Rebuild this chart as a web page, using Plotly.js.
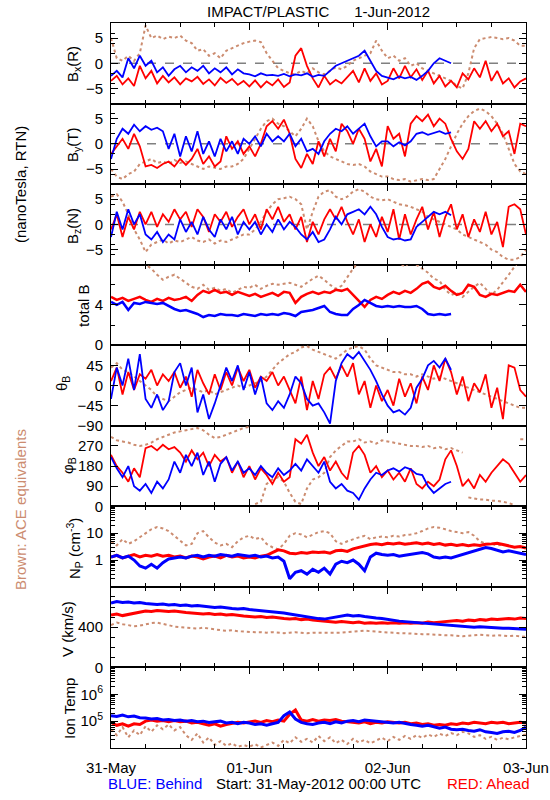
<!DOCTYPE html>
<html><head><meta charset="utf-8">
<script src="https://cdn.plot.ly/plotly-3.0.1.min.js"></script>
<style>html,body{margin:0;padding:0;background:#fff}</style>
</head><body>
<div id="chart" style="width:550px;height:800px"></div>
<script>
// ---- data: hourly readings from 31-May-2012 00:00 UTC (index = hour) ----
const bxRed = [-3.5,-2.5,-4.2,-3.0,-4.5,-0.5,-3.0,-1.5,-4.0,-2.5,-3.8,-2.8,
 -4.2,-3.0,-3.6,-2.7,-4.1,-3.2,-4.4,-2.9,-3.9,-3.1,-4.3,-3.5,
 -4.6,-3.4,-4.8,-3.6,-4.4,-3.2,-4.7,-3.8,1.5,3.0,-0.5,-3.0,
 -4.8,-2.5,-4.2,-3.3,-4.0,-2.8,-1.5,-3.8,-1.0,-3.5,-2.0,-4.2,
 -3.5,-1.0,-3.0,-0.5,-2.8,-1.2,-3.3,-1.5,-4.0,-2.5,-4.6,-3.5,
 -4.8,-2.0,-3.2,-1.0,-2.8,0.5,-3.5,-1.5,-4.0,-3.0,-4.8,-3.6,
 -3.0];
const bxBlue = [-2.5,-1.5,-2.8,1.0,-1.0,1.5,-0.5,0.5,-1.8,-0.8,-2.5,-1.2,
 -0.5,-1.8,-0.8,-1.5,-0.5,-2.0,-1.0,-1.8,-0.8,-2.2,-1.2,-2.0,
 -2.2,-2.6,-2.0,-2.4,-2.3,-2.5,-2.1,-2.6,-2.2,-2.4,-2.0,-2.7,
 -2.3,-2.5,-1.5,-0.5,0.0,0.5,1.0,1.5,2.5,0.5,-1.5,-2.5,
 -2.8,-3.2,-2.6,-3.0,-2.7,-3.3,-2.5,-1.5,0.0,1.0,0.5,0.0];
const bxAce = [5.0,1.0,0.5,1.5,0.5,2.0,7.5,5.0,5.5,4.8,5.3,5.0,
 5.5,4.5,4.0,2.5,2.8,1.5,2.0,1.0,2.5,3.0,3.5,4.0,
 4.3,4.5,4.2,2.0,0.5,-1.0,-1.5,-2.0,-2.2,-1.5,-2.0,-1.0,
 -1.8,-2.2,-1.5,-0.8,-1.2,-0.5,0.5,1.0,1.5,2.0,4.5,2.5,
 1.0,1.5,0.5,1.0,-0.5,0.0,-1.0,-1.5,-2.0,-2.5,-3.0,-3.5,
 -4.5,-5.0,-2.0,3.0,4.8,5.0,5.2,5.0,4.8,5.0,4.5,3.5,
 3.5];

const byRed = [-2.0,-0.5,1.0,-1.0,2.0,-0.5,-4.5,-4.2,-4.8,-4.0,-3.5,-4.5,
 -3.0,-4.2,-3.0,-1.0,-4.0,-2.5,-4.5,-3.5,1.5,-1.0,0.5,-2.0,
 -0.5,-2.5,0.0,3.5,4.5,3.0,4.8,2.0,-3.0,-4.8,-2.0,-4.0,
 0.5,-2.5,1.0,-1.5,4.0,2.5,0.0,3.0,1.0,-3.5,-1.0,-4.5,
 3.5,1.0,2.0,-2.5,4.0,5.5,4.5,5.8,3.5,5.0,4.0,1.0,
 -1.5,-3.0,-1.0,4.5,3.0,4.5,2.5,4.0,1.5,2.5,-2.0,4.0,
 3.5];
const byBlue = [-3.0,1.0,3.0,2.0,3.8,2.5,3.5,2.8,3.2,2.5,-1.0,2.0,
 -2.5,1.5,-1.5,2.5,-2.0,0.5,-2.5,1.0,-1.5,0.5,-2.0,1.0,
 0.0,1.5,-0.5,2.0,0.5,1.5,0.5,2.0,-0.5,1.0,-1.5,-1.0,
 -2.0,0.5,2.0,3.0,2.5,3.5,2.0,3.0,4.0,1.5,-0.5,0.5,
 0.5,-0.5,0.3,-0.3,0.5,2.0,2.3,1.8,2.2,2.5,2.0,2.3];
const byAce = [-5.0,-6.5,-7.0,-6.0,-5.5,-4.0,-3.5,-3.0,-3.8,-3.5,-4.0,-3.2,
 -3.8,-3.5,-4.0,-4.5,-5.0,-4.5,-4.8,-5.0,-4.5,-4.5,-4.0,-3.0,
 -1.0,1.0,3.0,4.5,5.0,4.0,3.5,2.5,1.5,3.0,5.0,3.5,
 0.5,-1.5,-2.5,-3.0,-3.5,-4.0,-4.2,-4.0,-4.5,-5.5,-6.0,-6.5,
 -6.5,-7.0,-7.2,-7.0,-7.5,-7.2,-7.0,-7.2,-7.0,-5.0,-3.0,-0.5,
 2.0,4.0,5.5,6.5,7.0,6.5,5.5,4.0,2.0,-1.0,-4.0,-5.5,
 -6.0];

const bzRed = [-1.0,2.0,-2.5,1.5,-1.0,2.5,0.0,2.5,-0.5,2.0,0.5,3.0,
 1.0,2.5,-0.5,3.0,1.5,-1.5,2.0,0.5,2.5,-0.5,1.5,3.0,
 0.0,2.0,-1.0,3.0,1.0,3.5,0.5,2.0,-1.0,1.5,-3.5,0.5,
 -2.0,1.0,3.0,1.0,3.5,0.5,-2.0,1.0,-3.5,0.0,-2.5,1.5,
 -1.5,3.0,-3.0,2.0,-2.0,1.0,3.5,-1.0,2.5,-2.5,1.5,4.0,
 -1.0,2.0,-2.5,1.0,-1.5,2.5,-2.0,0.5,-4.5,3.5,4.0,3.0,
 -2.0];
const bzBlue = [-2.5,2.5,-1.0,3.0,0.0,2.0,-2.0,-3.0,-1.5,-3.5,-2.0,-3.0,
 1.0,-1.5,0.5,-2.0,1.5,-1.0,-2.5,1.0,-1.0,1.5,-2.0,0.5,
 -1.0,0.5,-2.0,0.0,-1.5,1.0,-1.0,0.5,-0.5,-2.0,-3.0,-1.5,
 -3.5,-3.0,-1.0,1.5,0.0,2.0,2.5,3.0,2.0,3.5,2.0,-0.5,
 -2.5,-3.0,-2.8,-3.2,-3.0,-0.5,0.5,1.5,2.5,2.0,2.5,1.8];
const bzAce = [5.5,6.0,4.5,2.0,-1.0,-3.0,-5.5,-4.0,-3.5,-3.0,-3.8,-3.2,
 -3.5,-3.0,-2.5,-3.2,-3.5,-3.0,-3.8,-3.2,-3.5,-3.0,-2.5,-2.0,
 -2.0,-1.0,0.5,2.5,4.0,5.0,5.2,5.5,5.0,4.0,-1.0,2.5,
 5.5,6.5,6.8,5.5,5.0,5.5,6.5,7.0,6.5,5.5,5.0,4.8,
 5.0,4.5,4.0,3.8,3.5,3.0,2.5,1.5,1.0,0.5,0.0,-0.5,
 -1.0,-2.0,-2.5,-3.0,-3.5,-4.0,-5.0,-5.5,-6.5,-7.0,-7.0,-6.5,
 -5.0];

const totRed = [4.8,4.5,4.7,4.4,4.6,4.8,4.5,4.3,4.6,4.4,4.7,4.5,
 4.6,4.8,4.4,5.0,5.4,5.2,5.5,5.2,5.3,5.0,5.3,5.1,
 4.9,5.1,4.8,5.0,5.2,4.9,5.3,5.2,4.2,4.8,5.1,5.3,
 5.1,5.3,5.2,5.5,5.4,5.6,5.0,4.3,3.8,4.5,4.8,4.6,
 5.0,5.3,5.1,5.4,5.2,5.6,6.1,6.3,5.8,5.6,5.9,5.4,
 5.0,5.2,6.0,5.8,5.0,4.8,5.1,5.0,5.2,5.4,5.3,6.0,
 5.3];
const totBlue = [4.3,4.0,4.3,3.5,4.2,4.1,4.3,4.2,4.1,4.2,3.9,3.6,
 3.4,3.5,3.3,3.1,2.8,3.0,2.9,3.1,3.0,3.0,2.9,3.1,
 3.0,2.9,3.1,3.0,3.1,3.0,3.2,3.1,2.9,3.3,3.4,3.5,
 3.7,3.9,3.3,3.1,3.0,3.0,3.6,4.0,4.5,4.2,3.9,3.8,
 3.9,3.8,3.9,3.8,3.8,3.9,3.6,3.1,3.0,3.1,3.0,3.1];
const totAce = [8.8,8.6,8.9,8.5,8.7,8.4,8.0,7.6,7.0,6.5,6.8,7.0,
 6.6,6.2,5.8,5.6,6.0,5.5,5.7,5.4,5.6,5.2,5.5,5.8,
 5.7,6.0,5.6,5.9,6.1,6.0,6.1,6.2,6.0,5.8,6.2,6.6,
 6.9,6.5,6.0,5.6,5.9,6.8,7.6,8.3,8.6,8.5,8.8,8.6,
 8.4,8.5,8.2,7.8,8.3,8.0,7.6,7.2,6.6,6.4,5.5,5.0,
 5.2,4.8,5.3,5.8,6.2,5.6,5.0,5.5,6.2,7.0,7.8,8.5,
 8.8];

const thRed = [10,40,-20,30,-10,25,15,35,0,25,10,30,
 -5,20,-25,35,5,-20,25,-10,30,0,40,10,
 35,-5,20,10,30,0,20,-10,-40,20,-55,10,
 -30,25,40,15,45,20,50,-20,10,-50,0,-35,
 -10,-45,15,-25,5,-40,20,-10,45,10,60,30,
 -20,20,-35,5,-15,25,-50,-5,-75,45,40,-10,
 -25];
const thBlue = [-30,40,0,60,-10,70,-30,-50,-20,-55,-35,30,
 50,0,40,-60,-20,-75,-40,0,40,10,45,-10,
 30,-20,20,-40,-55,-35,-50,-20,20,5,-30,-45,
 -40,-60,-85,10,50,70,60,75,55,35,10,-20,
 -45,-60,-55,-65,-50,-5,15,45,55,40,60,35];
const thAce = [40,50,35,30,20,10,0,-10,-25,-30,-35,-25,
 -15,-10,-5,-10,-15,-10,-20,-15,-10,-5,0,-5,
 0,5,10,20,35,50,60,70,75,85,88,80,
 75,70,65,60,70,80,85,88,80,60,45,40,
 35,30,30,25,25,20,25,20,15,20,15,10,
 5,0,-5,-10,-15,-20,-25,-30,-35,-40,-45,-50,
 -50];

const phRed = [230,180,150,110,170,130,260,270,250,275,255,265,
 240,200,250,210,240,180,230,200,220,150,200,130,
 180,120,170,140,100,150,110,130,300,280,320,240,
 180,220,160,200,150,120,240,270,230,150,180,130,
 160,120,150,110,170,100,80,110,90,120,210,250,
 180,90,120,80,140,110,150,180,210,190,150,110,
 140];
const phBlue = [220,170,130,180,90,70,100,60,110,80,120,200,
 150,230,180,240,140,200,110,190,220,160,200,150,
 170,140,180,150,130,170,140,160,190,160,210,180,
 150,200,110,80,100,70,60,30,80,120,150,140,
 160,170,155,175,165,145,140,90,60,80,100,110];
const phAce = [310,295,290,285,275,270,275,285,300,310,320,330,
 335,340,345,350,340,320,305,310,320,330,340,350,
 355,10,20,100,120,130,110,60,20,10,80,120,
 130,150,220,250,270,290,290,300,285,290,280,295,
 290,285,280,275,270,270,265,270,260,265,255,260,
 250,240,40,35,30,30,25,25,20,15,5,300,
 300];

const npRed = [1.3,1.5,1.2,1.4,1.6,1.3,1.5,1.4,1.6,1.4,1.5,1.3,
 1.4,1.2,1.4,1.3,1.1,1.3,1.4,1.2,1.5,1.3,1.4,1.2,
 1.3,1.2,1.4,1.5,1.9,2.4,2.2,1.8,1.7,1.9,1.8,2.0,
 1.9,2.0,1.8,2.2,2.3,2.1,2.6,3.0,3.5,3.8,4.0,3.7,
 4.2,4.0,4.3,3.9,4.1,4.4,4.0,4.3,3.8,4.1,3.6,3.9,
 3.5,3.8,3.4,3.7,3.5,3.9,4.0,4.2,3.8,3.3,3.0,3.2,
 2.8];
const npBlue = [1.3,1.5,1.2,1.4,1.0,0.6,0.5,0.7,0.5,0.8,1.1,1.2,
 1.3,1.2,1.4,1.5,1.3,1.5,1.4,1.6,1.5,1.4,1.6,1.5,
 1.4,1.5,1.3,1.4,1.2,1.3,0.9,0.2,0.35,0.4,0.3,0.45,
 0.35,0.5,0.3,0.7,0.9,0.8,1.0,0.7,0.4,1.3,1.8,1.6,
 1.5,1.6,1.4,1.5,1.6,1.8,1.9,1.7,1.3,1.2,1.3,1.2,
 1.4,1.6,1.9,2.2,2.6,2.9,2.7,2.3,2.0,2.2,2.0,1.8,
 1.6];
const npAce = [5,3.5,6,4,5,7,10,14,17,15,12,8,
 5,3.5,4,10,12,7,4.5,3.5,4,3,5,7,
 8,6,7,4,3,2.5,4,8,10,9,7,9,
 11,12,10,5,4,5,6,7,8,6,7,7.5,
 7,8,7.5,8.5,9,10,12,15,17,16,14,12,
 11,10,11,8,5,4,4,3.5,3.8,3.5,3,3.2,
 3];

const vRed = [520,530,515,525,535,550,560,555,565,560,555,560,
 550,545,540,535,530,535,525,530,520,525,515,510,
 505,500,505,495,500,490,485,480,485,475,480,470,
 465,460,455,450,455,450,445,450,440,445,440,445,
 440,445,440,445,440,445,440,450,445,450,455,460,
 465,460,470,465,475,470,480,475,480,485,480,490,
 485];
const vBlue = [640,655,645,650,640,645,635,630,625,630,620,625,
 615,620,610,615,610,600,595,600,590,585,580,585,
 575,570,565,560,555,545,540,530,520,515,500,490,
 485,480,490,505,515,520,510,515,505,495,490,485,
 475,470,460,455,450,445,440,435,430,425,420,415,
 410,410,405,400,405,400,395,395,390,390,385,385,
 380];
const vAce = [420,445,430,420,410,415,430,440,445,435,420,405,
 400,395,390,385,395,385,375,370,365,370,360,355,
 355,350,350,345,350,345,340,345,350,345,340,345,
 345,340,345,340,345,350,355,360,365,360,355,350,
 345,345,340,340,335,335,330,330,325,325,320,320,
 315,310,315,320,325,320,315,320,315,310,315,310,
 305];

const tRed = [9.0e4,7.0e4,8.0e4,6.5e4,8.0e4,7.5e4,1.0e5,1.1e5,1.0e5,1.05e5,9.5e4,1.05e5,
 9.5e4,1.0e5,8.5e4,9.0e4,8.0e4,7.0e4,8.0e4,6.5e4,7.5e4,8.0e4,9.0e4,8.5e4,
 9.5e4,1.0e5,9.0e4,1.05e5,9.5e4,1.1e5,1.0e5,1.8e5,2.6e5,1.1e5,1.0e5,1.15e5,
 1.0e5,1.1e5,1.05e5,1.15e5,1.0e5,9.5e4,9.0e4,8.5e4,9.5e4,8.0e4,9.0e4,8.5e4,
 9.5e4,9.0e4,8.5e4,9.0e4,8.0e4,8.5e4,7.5e4,8.0e4,7.0e4,7.5e4,7.0e4,8.0e4,
 7.5e4,8.5e4,8.0e4,9.0e4,8.5e4,8.0e4,9.0e4,8.5e4,9.0e4,8.0e4,8.5e4,9.0e4,
 8.5e4];
const tBlue = [1.6e5,1.5e5,1.7e5,1.45e5,1.55e5,1.35e5,1.3e5,1.2e5,1.25e5,1.1e5,1.15e5,1.05e5,
 1.1e5,1.0e5,1.05e5,9.5e4,1.0e5,9.0e4,9.5e4,1.0e5,8.5e4,9.0e4,8.0e4,9.0e4,
 8.5e4,7.5e4,8.0e4,7.0e4,8.0e4,9.0e4,1.6e5,2.2e5,1.2e5,9.0e4,8.0e4,7.5e4,
 8.5e4,9.0e4,8.0e4,9.5e4,8.5e4,1.0e5,1.05e5,9.5e4,1.1e5,1.05e5,1.0e5,9.5e4,
 9.0e4,8.5e4,9.0e4,8.0e4,7.5e4,7.0e4,6.5e4,7.0e4,6.0e4,5.5e4,6.0e4,5.0e4,
 4.8e4,5.0e4,4.5e4,4.2e4,4.8e4,4.0e4,3.8e4,3.5e4,4.0e4,4.2e4,3.8e4,4.5e4,
 6.0e4];
const tAce = [5e4,3e4,6e4,2.5e4,4.5e4,3e4,6.5e4,4e4,7e4,5e4,7.5e4,4.5e4,
 6e4,3e4,2e4,3.5e4,1.6e4,2.5e4,1.3e4,1.8e4,1.2e4,1.5e4,1.1e4,1.3e4,
 1.1e4,1.4e4,1.05e4,1.3e4,1.6e4,1.2e4,2.0e4,1.5e4,2.5e4,1.7e4,2.2e4,1.6e4,
 2.8e4,1.8e4,2.5e4,1.5e4,2.0e4,1.4e4,2.2e4,1.6e4,2.0e4,1.5e4,1.9e4,2.4e4,
 1.8e4,2.6e4,2.0e4,2.8e4,2.2e4,3.0e4,2.4e4,3.2e4,2.6e4,3.4e4,2.8e4,3.6e4,
 3.0e4,4.0e4,3.5e4,2.6e4,3.0e4,2.2e4,2.6e4,2.0e4,2.4e4,2.1e4,2.5e4,2.8e4,
 3.2e4];

const dayTickLabels = ['31-May','01-Jun','02-Jun','03-Jun'];

// ---- styling / layout ----
const RED = '#ff0000', BLUE = '#0000ff', BROWN = '#cc8c70';
const FONT = 'Liberation Sans, Arial, Helvetica, sans-serif';
const START = Date.UTC(2012, 4, 31);
function stamp(h) {
  return new Date(START + h * 3600000).toISOString().slice(0, 16).replace('T', ' ');
}
function series(vals, wrap) {
  const x = [], y = [];
  for (let i = 0; i < vals.length; i++) {
    if (wrap && i > 0 && Math.abs(vals[i] - vals[i - 1]) > 180) { x.push(stamp(i - 0.5)); y.push(null); }
    x.push(stamp(i)); y.push(vals[i]);
  }
  return { x, y };
}

const panels = [
  { red: bxRed, blue: bxBlue, ace: bxAce, range: [-8, 8], tickvals: [-5, 0, 5], minor: [-6, -4, -2, 2, 4, 6], zero: true, w: 1.8 },
  { red: byRed, blue: byBlue, ace: byAce, range: [-8, 8], tickvals: [-5, 0, 5], minor: [-6, -4, -2, 2, 4, 6], zero: true, w: 1.8 },
  { red: bzRed, blue: bzBlue, ace: bzAce, range: [-8, 8], tickvals: [-5, 0, 5], minor: [-6, -4, -2, 2, 4, 6], zero: true, w: 1.8 },
  { red: totRed, blue: totBlue, ace: totAce, range: [0, 8], tickvals: [0, 4], ticktext: ['0', '4'], minor: [2, 6], w: 2.5 },
  { red: thRed, blue: thBlue, ace: thAce, range: [-90, 90], tickvals: [-90, -45, 0, 45], ticktext: ['\u221290', '\u221245', '0', '45'], w: 1.8 },
  { red: phRed, blue: phBlue, ace: phAce, range: [0, 360], tickvals: [0, 90, 180, 270], ticktext: ['0', '90', '180', '270'], w: 1.8, wrap: true },
  { red: npRed, blue: npBlue, ace: npAce, log: true, range: [-1, 2], tickvals: [1, 10], ticktext: ['1', '10'], w: 3 },
  { red: vRed, blue: vBlue, ace: vAce, range: [0, 800], tickvals: [0, 400], ticktext: ['0', '400'], minorDtick: 100, w: 3 },
  { red: tRed, blue: tBlue, ace: tAce, log: true, range: [4, 7], tickvals: [1e5, 1e6], ticktext: ['10<sup>5</sup>', '10<sup>6</sup>'], w: 3 }
];

const data = [];
const layout = {
  width: 550, height: 800,
  margin: { l: 111, r: 24, t: 23, b: 52 },
  paper_bgcolor: '#fff', plot_bgcolor: '#fff',
  showlegend: false,
  font: { family: FONT, size: 15, color: '#000' },
  shapes: [], annotations: []
};

const N = panels.length;
panels.forEach((p, i) => {
  const xs = i === 0 ? 'x' : 'x' + (i + 1);
  const ys = i === 0 ? 'y' : 'y' + (i + 1);
  const a = series(p.ace, p.wrap), r = series(p.red, p.wrap), b = series(p.blue, p.wrap);
  data.push({ x: a.x, y: a.y, xaxis: xs, yaxis: ys, mode: 'lines', line: { color: BROWN, width: 2, dash: 'dot' }, hoverinfo: 'skip' });
  data.push({ x: r.x, y: r.y, xaxis: xs, yaxis: ys, mode: 'lines', line: { color: RED, width: p.w }, hoverinfo: 'skip' });
  data.push({ x: b.x, y: b.y, xaxis: xs, yaxis: ys, mode: 'lines', line: { color: BLUE, width: p.w }, hoverinfo: 'skip' });

  const last = i === N - 1;
  const xa = {
    type: 'date', range: ['2012-05-31', '2012-06-03'], anchor: ys,
    tickmode: 'array', tickvals: ['2012-05-31', '2012-06-01', '2012-06-02', '2012-06-03'],
    ticks: 'inside', ticklen: 7, tickcolor: '#000', tickwidth: 1,
    minor: { ticks: 'inside', ticklen: 4, tickcolor: '#000', dtick: 21600000, tick0: '2012-05-31' },
    showline: true, linecolor: '#000', linewidth: 1, mirror: 'ticks',
    showgrid: false, zeroline: false, showticklabels: last,
    ticklabelstandoff: 6, tickfont: { size: 15, family: FONT }
  };
  if (last) xa.ticktext = dayTickLabels;
  if (i > 0) xa.matches = 'x';
  const ya = {
    domain: [1 - (i + 1) / N, 1 - i / N], anchor: xs,
    type: p.log ? 'log' : 'linear', range: p.range,
    tickmode: 'array', tickvals: p.tickvals,
    ticks: 'inside', ticklen: 7, tickcolor: '#000', tickwidth: 1,
    showline: true, linecolor: '#000', linewidth: 1, mirror: 'ticks',
    showgrid: false, zeroline: false, ticklabelstandoff: 4,
    tickfont: { size: 15, family: FONT }
  };
  if (p.ticktext) ya.ticktext = p.ticktext;
  if (p.minor) ya.minor = { ticks: 'inside', ticklen: 4, tickcolor: '#000', tickmode: 'array', tickvals: p.minor };
  if (p.minorDtick) ya.minor = { ticks: 'inside', ticklen: 4, tickcolor: '#000', dtick: p.minorDtick };
  if (p.log) ya.minor = { ticks: 'inside', ticklen: 4, tickcolor: '#000', dtick: 'D1' };
  layout[i === 0 ? 'xaxis' : 'xaxis' + (i + 1)] = xa;
  layout[i === 0 ? 'yaxis' : 'yaxis' + (i + 1)] = ya;
  if (p.zero) {
    layout.shapes.push({ type: 'line', xref: 'paper', x0: 0, x1: 1, yref: ys, y0: 0, y1: 0,
      line: { color: '#808080', width: 1.5, dash: 'dash' }, layer: 'below' });
  }
});

// text placed in pixel positions -> paper coords
const px = v => (v - 111) / 415;
const py = v => (748 - v) / 725;
function note(text, x, y, opts) {
  layout.annotations.push(Object.assign({
    text, x: px(x), y: py(y), xref: 'paper', yref: 'paper', showarrow: false,
    xanchor: 'center', yanchor: 'middle', font: { family: FONT, size: 15, color: '#000' }
  }, opts || {}));
}
const rot = { textangle: -90 };
note('IMPACT/PLASTIC\u00a0\u00a0\u00a0\u00a0\u00a0\u00a01-Jun-2012', 318, 12);
note('B<sub>x</sub>(R)', 73, 64, rot);
note('B<sub>y</sub>(T)', 73, 145, rot);
note('B<sub>z</sub>(N)', 73, 226, rot);
note('total B', 83, 306, rot);
note('\u03b8<sub>B</sub>', 62, 384, rot);
note('\u03c6<sub>B</sub>', 68, 466, rot);
note('N<sub>P</sub> (cm<sup>-3</sup>)', 74, 549, rot);
note('V (km/s)', 67, 629, rot);
note('Ion Temp', 69, 709, rot);
note('(nanoTesla, RTN)', 21, 185, rot);
note('Brown: ACE equivalents', 20, 510, Object.assign({ font: { family: FONT, size: 15, color: BROWN } }, rot));
note('BLUE: Behind', 155, 783, { font: { family: FONT, size: 15, color: BLUE } });
note('Start: 31-May-2012 00:00 UTC', 318, 783);
note('RED: Ahead', 488, 783, { font: { family: FONT, size: 15, color: RED } });

Plotly.newPlot('chart', data, layout, { displayModeBar: false, staticPlot: true });
</script>
</body></html>
